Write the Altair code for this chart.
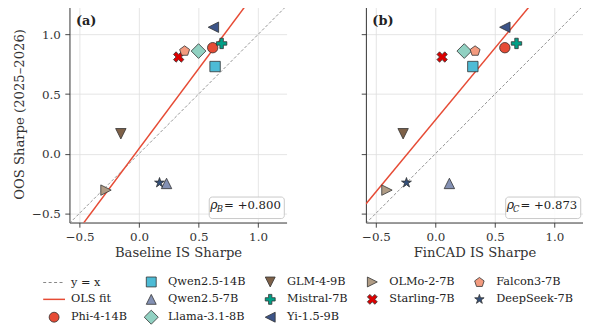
import altair as alt
import pandas as pd

# ---------------- data ----------------
MODELS = ["Phi-4-14B", "Qwen2.5-14B", "Qwen2.5-7B", "Llama-3.1-8B", "GLM-4-9B",
          "Mistral-7B", "Yi-1.5-9B", "OLMo-2-7B", "Starling-7B", "Falcon3-7B", "DeepSeek-7B"]
BASELINE_IS = [0.619, 0.639, 0.231, 0.500, -0.153, 0.694, 0.625, -0.278, 0.333, 0.383, 0.172]
FINCAD_IS = [0.583, 0.314, 0.117, 0.242, -0.272, 0.681, 0.583, -0.408, 0.056, 0.333, -0.244]
OOS = [0.889, 0.731, -0.250, 0.861, 0.167, 0.925, 1.061, -0.306, 0.811, 0.861, -0.244]

COLORS = ["#E64B35", "#4DBBD5", "#8491B4", "#91D1C2", "#7E6148",
          "#00A087", "#3C5488", "#B09C85", "#DC0000", "#F39B7F", "#34507A"]

# marker outlines, normalised to the [-1, 1] symbol box
CIRCLE = "M0.5,0A0.5,0.5 0 1,1 -0.5,0A0.5,0.5 0 1,1 0.5,0Z"
SQUARE = "M-0.5,-0.5H0.5V0.5H-0.5Z"
TRI_UP = "M0,-0.5L0.5,0.5L-0.5,0.5Z"
TRI_DOWN = "M0,0.5L0.5,-0.5L-0.5,-0.5Z"
TRI_LEFT = "M-0.5,0L0.5,-0.5L0.5,0.5Z"
TRI_RIGHT = "M0.5,0L-0.5,-0.5L-0.5,0.5Z"
DIAMOND = "M0,-0.707L0.707,0L0,0.707L-0.707,0Z"
PLUS = ("M-0.167,-0.5H0.167V-0.167H0.5V0.167H0.167V0.5H-0.167V0.167H-0.5V-0.167H-0.167Z")
XFILL = ("M0.25,-0.5L0.5,-0.25L0.25,0L0.5,0.25L0.25,0.5L0,0.25L-0.25,0.5L-0.5,0.25"
         "L-0.25,0L-0.5,-0.25L-0.25,-0.5L0,-0.25Z")
PENTAGON = "M0,-0.5L0.476,-0.155L0.294,0.405L-0.294,0.405L-0.476,-0.155Z"
STAR = ("M0,-0.5L0.112,-0.155L0.476,-0.155L0.182,0.059L0.294,0.405L0,0.191"
        "L-0.294,0.405L-0.182,0.059L-0.476,-0.155L-0.112,-0.155Z")
SHAPES = [CIRCLE, SQUARE, TRI_UP, DIAMOND, TRI_DOWN, PLUS, TRI_LEFT, TRI_RIGHT, XFILL, PENTAGON, STAR]

REF_NAMES = ["y = x", "OLS fit"]
REF_COLORS = ["#888888", "#E64B35"]
REF_SHAPES = ["M-1.1,-0.05H-0.8V0.05H-1.1ZM-0.55,-0.05H-0.25V0.05H-0.55Z"
              "M0,-0.05H0.3V0.05H0ZM0.55,-0.05H0.85V0.05H0.55Z",
              "M-1.1,-0.075H1.1V0.075H-1.1Z"]

# legend entries, row by row (5 columns)
LEGEND_ORDER = ["y = x", "Qwen2.5-14B", "GLM-4-9B", "OLMo-2-7B", "Falcon3-7B",
                "OLS fit", "Qwen2.5-7B", "Mistral-7B", "Starling-7B", "DeepSeek-7B",
                "Phi-4-14B", "Llama-3.1-8B", "Yi-1.5-9B"]

XDOM = [-0.585, 1.24]
YDOM = [-0.578, 1.244]
TICKS = [-0.5, 0.0, 0.5, 1.0]
YTITLE = "OOS Sharpe (2025–2026)"
XTITLES = ["Baseline IS Sharpe", "FinCAD IS Sharpe"]
TAGS = ["(a)", "(b)"]
RHO_SUBS = ["B", "C"]
RHO_VALS = ["= +0.800", "= +0.873"]

W, H = 219, 219
FONT = "DejaVu Serif"

fill_map = dict(zip(MODELS + REF_NAMES, COLORS + REF_COLORS))
shape_map = dict(zip(MODELS + REF_NAMES, SHAPES + REF_SHAPES))
stroke_map = {m: "#333333" for m in MODELS}
stroke_map.update({r: "transparent" for r in REF_NAMES})

FILL_RANGE = [fill_map[k] for k in LEGEND_ORDER]
SHAPE_RANGE = [shape_map[k] for k in LEGEND_ORDER]
STROKE_RANGE = [stroke_map[k] for k in LEGEND_ORDER]

legend = alt.Legend(title=None, orient="none", direction="horizontal", legendX=-26, legendY=268,
                    columns=5, columnPadding=14, rowPadding=-3.7, symbolSize=400, labelOffset=6.5,
                    labelFont=FONT, labelFontSize=11.4, labelColor="#222222",
                    symbolStrokeWidth=0.8, padding=0, gridAlign="each")


def panel(is_vals, xtitle, tag, sub, val, first):
    df = pd.DataFrame({"model": MODELS, "is": is_vals, "oos": OOS})
    xs = alt.X("is:Q", scale=alt.Scale(domain=XDOM, nice=False, zero=False),
               axis=alt.Axis(title=xtitle, values=TICKS, format=".1f"))
    if first:
        yax = alt.Axis(title=YTITLE, values=TICKS, format=".1f")
    else:
        yax = alt.Axis(title=None, values=TICKS, labels=False)
    ys = alt.Y("oos:Q", scale=alt.Scale(domain=YDOM, nice=False, zero=False), axis=yax)

    diag = alt.Chart(pd.DataFrame({"is": XDOM, "oos": XDOM})).mark_line(
        color="#888888", strokeDash=[3, 2], strokeWidth=0.9, clip=True
    ).encode(x=xs, y=ys)

    ols = alt.Chart(df).transform_regression("is", "oos", extent=XDOM).mark_line(
        color="#E64B35", strokeWidth=1.5, clip=True
    ).encode(x=xs, y=ys)

    pts = alt.Chart(df).mark_point(filled=True, size=441, strokeWidth=0.8, opacity=1).encode(
        x=xs, y=ys,
        fill=alt.Fill("model:N", scale=alt.Scale(domain=LEGEND_ORDER, range=FILL_RANGE), legend=legend),
        shape=alt.Shape("model:N", scale=alt.Scale(domain=LEGEND_ORDER, range=SHAPE_RANGE), legend=legend),
        stroke=alt.Stroke("model:N", scale=alt.Scale(domain=LEGEND_ORDER, range=STROKE_RANGE), legend=legend),
    )

    ann = pd.DataFrame({"tag": [tag], "sub": [sub], "val": [val]})
    box = alt.Chart(ann).mark_rect(cornerRadius=3, fill="white", fillOpacity=0.85,
                                   stroke="#c8c8c8", strokeWidth=1).encode(
        x=alt.value(W - 78), x2=alt.value(W - 2.3), y=alt.value(H - 25.7), y2=alt.value(H - 4))
    rho = alt.Chart(ann).mark_text(font=FONT, fontStyle="italic", fontSize=12.5, align="left",
                                   baseline="alphabetic", color="#222222").encode(
        x=alt.value(W - 77), y=alt.value(H - 13.5), text=alt.value("ρ"))
    subt = alt.Chart(ann).mark_text(font=FONT, fontStyle="italic", fontSize=8.5, align="left",
                                    baseline="alphabetic", color="#222222").encode(
        x=alt.value(W - 70.5), y=alt.value(H - 10.5), text="sub:N")
    valt = alt.Chart(ann).mark_text(font=FONT, fontSize=11.8, align="left",
                                    baseline="alphabetic", color="#222222").encode(
        x=alt.value(W - 63), y=alt.value(H - 13.5), text="val:N")
    tagt = alt.Chart(ann).mark_text(font=FONT, fontSize=13, fontWeight="bold", align="left",
                                    baseline="alphabetic", color="#222222").encode(
        x=alt.value(6.5), y=alt.value(19.5), text="tag:N")

    return alt.layer(diag, ols, pts, box, rho, subt, valt, tagt).properties(width=W, height=H)


pa = panel(BASELINE_IS, XTITLES[0], TAGS[0], RHO_SUBS[0], RHO_VALS[0], True)
pb = panel(FINCAD_IS, XTITLES[1], TAGS[1], RHO_SUBS[1], RHO_VALS[1], False)

chart = alt.hconcat(pa, pb, spacing=74).properties(
    padding={"left": 4, "top": -4, "right": 0, "bottom": 0}
).configure(font=FONT).configure_view(stroke=None).configure_axis(
    labelFont=FONT, labelFontSize=12, labelColor="#333333",
    titleFont=FONT, titleFontSize=13.3, titleFontWeight="normal", titleColor="#333333",
    tickSize=4.7, tickColor="#333333", tickWidth=0.9,
    domainColor="#333333", domainWidth=1,
    gridColor="#dedede", gridWidth=0.8, labelPadding=4.5,
).configure_axisY(titlePadding=5).configure_axisX(titlePadding=3)

chart.save("out.html", embed_options={"renderer": "svg", "actions": False})
